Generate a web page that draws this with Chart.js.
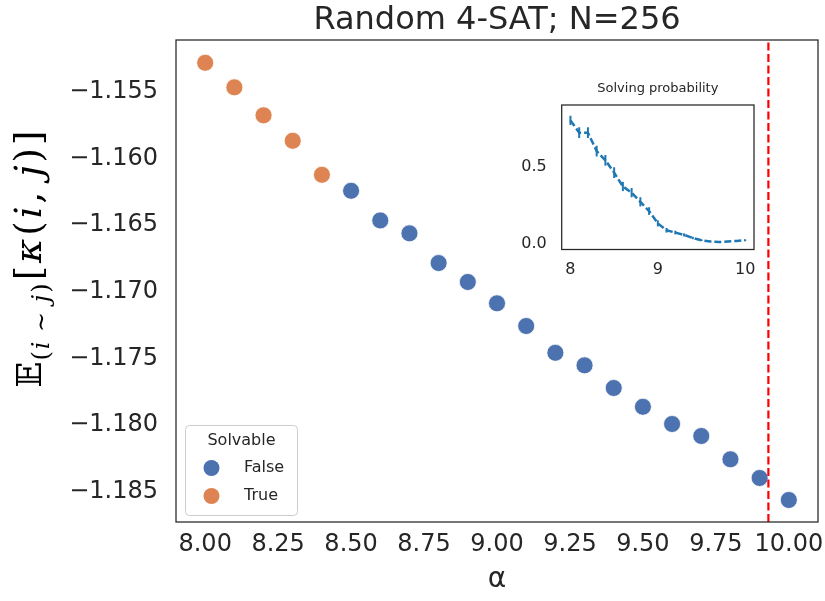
<!DOCTYPE html>
<html>
<head>
<meta charset="utf-8">
<script src="https://cdn.jsdelivr.net/npm/chart.js@4.4.0/dist/chart.umd.min.js"></script>
<style>
  body { margin: 0; background: #fff; }
  #wrap { position: relative; width: 825px; height: 601px; }
  #main { position: absolute; left: 0; top: 0; }
  #inset { position: absolute; left: 500px; top: 75px; }
</style>
</head>
<body>
<div id="wrap">
  <canvas id="main" width="825" height="601"></canvas>
  <canvas id="inset" width="265" height="210"></canvas>
</div>
<script>
// valores
const alphas = [8.0, 8.1, 8.2, 8.3, 8.4, 8.5, 8.6, 8.7, 8.8, 8.9, 9.0, 9.1, 9.2, 9.3, 9.4, 9.5, 9.6, 9.7, 9.8, 9.9, 10.0];
const curvatura = [-1.15283, -1.15467, -1.15677, -1.15868, -1.16123, -1.16243, -1.16465, -1.16562, -1.16785, -1.16927,
  -1.17087, -1.17257, -1.17458, -1.17552, -1.17722, -1.17863, -1.17992, -1.18082, -1.18257, -1.18397, -1.18562];
const solvable = [true, true, true, true, true, false, false, false, false, false, false,
  false, false, false, false, false, false, false, false, false, false];
const probResolver = [0.80, 0.72, 0.72, 0.60, 0.54, 0.46, 0.37, 0.33, 0.27, 0.21, 0.13,
  0.085, 0.07, 0.055, 0.035, 0.02, 0.012, 0.008, 0.012, 0.016, 0.02];
const probErro = [0.03, 0.035, 0.035, 0.035, 0.035, 0.035, 0.03, 0.03, 0.03, 0.025, 0.02,
  0.015, 0.012, 0.01, 0.008, 0.005, 0.004, 0.003, 0.004, 0.004, 0.005];
const limiar = 9.93;

const xLim = [7.9, 10.1];
const yLim = [-1.18727, -1.15112];
const insetYLim = [-0.04, 0.90];

const legendaTitulo = 'Solvable';
const legendaRotulos = ['False', 'True'];

const corTexto = '#262626';
const corAzul = '#4c72b0';
const corLaranja = '#dd8452';

// pontos separados por hue
function pontos(flag) {
  const out = [];
  alphas.forEach((a, i) => { if (solvable[i] === flag) out.push({ x: a, y: curvatura[i] }); });
  return out;
}

// tamanho fixo dos eixos, sem folga extra para os rótulos
function fixarAltura(h) {
  return s => { s.height = h; s.paddingLeft = 0; s.paddingRight = 0; };
}
function fixarLargura(w) {
  return s => { s.width = w; s.paddingTop = 0; s.paddingBottom = 0; };
}

// moldura completa dos eixos
const moldura = {
  id: 'moldura',
  afterDraw(chart) {
    const { ctx, chartArea: a } = chart;
    ctx.save();
    ctx.strokeStyle = corTexto;
    ctx.lineWidth = 1.25;
    ctx.strokeRect(a.left, a.top, a.right - a.left, a.bottom - a.top);
    ctx.restore();
  }
};

// legenda estilo seaborn
const legenda = {
  id: 'legenda',
  afterDraw(chart) {
    const ctx = chart.ctx;
    ctx.save();
    ctx.fillStyle = 'rgba(255,255,255,0.8)';
    ctx.strokeStyle = '#cccccc';
    ctx.lineWidth = 1;
    ctx.beginPath();
    ctx.roundRect(185.5, 425.5, 112, 90, 4);
    ctx.fill();
    ctx.stroke();
    ctx.fillStyle = corTexto;
    ctx.font = '16px "DejaVu Sans"';
    ctx.textAlign = 'center';
    ctx.textBaseline = 'middle';
    ctx.fillText(legendaTitulo, 241.5, 441);
    const cores = [corAzul, corLaranja];
    legendaRotulos.forEach((txt, i) => {
      const y = 468 + i * 28;
      ctx.beginPath();
      ctx.arc(211.5, y, 8, 0, Math.PI * 2);
      ctx.fillStyle = cores[i];
      ctx.fill();
      ctx.fillStyle = corTexto;
      ctx.textAlign = 'left';
      ctx.fillText(txt, 244, y);
    });
    ctx.restore();
  }
};

// rótulo do eixo y em notação matemática
const rotuloY = {
  id: 'rotuloY',
  afterDraw(chart) {
    const ctx = chart.ctx;
    // [texto, fonte, deslocamento da linha de base, espaço extra]
    const partes = [
      ['𝔼', '34px "DejaVu Serif"', 0, 1],
      ['(', '24px "DejaVu Serif"', 8, 2],
      ['i', 'italic 24px "DejaVu Serif"', 8, 2],
      [' ∼ ', '24px "DejaVu Serif"', 8, 2],
      ['j', 'italic 24px "DejaVu Serif"', 8, 2],
      [')', '24px "DejaVu Serif"', 8, 3],
      ['[', '37px "DejaVu Serif"', 0, 3],
      ['κ', 'italic 37px "DejaVu Serif"', 0, 3],
      ['(', '37px "DejaVu Serif"', 0, 3],
      ['i', 'italic 37px "DejaVu Serif"', 0, 3],
      [', ', '37px "DejaVu Serif"', 0, 3],
      ['j', 'italic 37px "DejaVu Serif"', 0, 3],
      [')', '37px "DejaVu Serif"', 0, 3],
      [']', '37px "DejaVu Serif"', 0, 0]
    ];
    ctx.save();
    ctx.fillStyle = '#000';
    ctx.textBaseline = 'alphabetic';
    let total = 0;
    partes.forEach(p => { ctx.font = p[1]; total += ctx.measureText(p[0]).width + p[3]; });
    ctx.translate(41, 259 + total / 2);
    ctx.rotate(-Math.PI / 2);
    let x = 0;
    partes.forEach(p => {
      ctx.font = p[1];
      ctx.fillText(p[0], x, p[2]);
      x += ctx.measureText(p[0]).width + p[3];
    });
    ctx.restore();
  }
};

new Chart(document.getElementById('main'), {
  type: 'scatter',
  data: {
    datasets: [
      {
        type: 'line',
        data: [{ x: limiar, y: yLim[0] }, { x: limiar, y: yLim[1] }],
        borderColor: '#ff0000',
        borderWidth: 2.2,
        borderDash: [8, 3.5],
        pointRadius: 0,
        fill: false,
        order: 0
      },
      {
        label: legendaRotulos[0],
        data: pontos(false),
        backgroundColor: corAzul,
        borderColor: '#ffffff',
        borderWidth: 0.75,
        pointRadius: 8.5,
        order: 1
      },
      {
        label: legendaRotulos[1],
        data: pontos(true),
        backgroundColor: corLaranja,
        borderColor: '#ffffff',
        borderWidth: 0.75,
        pointRadius: 8.5,
        order: 1
      }
    ]
  },
  options: {
    responsive: false,
    animation: false,
    devicePixelRatio: 1,
    layout: { autoPadding: false, padding: { left: 0, right: 7, top: 0, bottom: 0 } },
    plugins: {
      legend: { display: false },
      tooltip: { enabled: false },
      title: {
        display: true,
        text: 'Random 4-SAT; N=256',
        fullSize: false,
        color: corTexto,
        font: { family: '"DejaVu Sans"', size: 32, weight: 'normal' },
        padding: { top: 1.6, bottom: 0 }
      }
    },
    scales: {
      x: {
        type: 'linear',
        min: xLim[0],
        max: xLim[1],
        grid: { display: false, drawTicks: false },
        border: { display: false },
        ticks: {
          stepSize: 0.25,
          includeBounds: false,
          padding: 8.6,
          color: corTexto,
          font: { family: '"DejaVu Sans"', size: 24 },
          maxRotation: 0,
          autoSkip: false,
          callback: v => v.toFixed(2)
        },
        title: {
          display: true,
          text: 'α',
          color: corTexto,
          font: { family: '"DejaVu Sans"', size: 28 },
          padding: { top: 0, bottom: 4 }
        },
        afterFit: fixarAltura(79)
      },
      y: {
        min: yLim[0],
        max: yLim[1],
        grid: { display: false, drawTicks: false },
        border: { display: false },
        ticks: {
          stepSize: 0.005,
          includeBounds: false,
          padding: 18,
          color: corTexto,
          font: { family: '"DejaVu Sans"', size: 24 },
          autoSkip: false,
          callback: v => '\u2212' + Math.abs(v).toFixed(3)
        },
        afterFit: fixarLargura(176)
      }
    }
  },
  plugins: [moldura, legenda, rotuloY]
});

// barras de erro do gráfico inserido
const barrasErro = {
  id: 'barrasErro',
  afterDatasetsDraw(chart) {
    const { ctx, scales: { x, y } } = chart;
    ctx.save();
    ctx.strokeStyle = '#1f77b4';
    ctx.lineWidth = 2;
    alphas.forEach((a, i) => {
      const px = x.getPixelForValue(a);
      ctx.beginPath();
      ctx.moveTo(px, y.getPixelForValue(probResolver[i] - probErro[i]));
      ctx.lineTo(px, y.getPixelForValue(probResolver[i] + probErro[i]));
      ctx.stroke();
    });
    ctx.restore();
  }
};

new Chart(document.getElementById('inset'), {
  type: 'line',
  data: {
    datasets: [{
      data: alphas.map((a, i) => ({ x: a, y: probResolver[i] })),
      borderColor: '#1f77b4',
      borderWidth: 2.5,
      borderDash: [7, 3],
      pointRadius: 0,
      fill: false,
      tension: 0
    }]
  },
  options: {
    responsive: false,
    animation: false,
    devicePixelRatio: 1,
    layout: { autoPadding: false, padding: { left: 0, right: 11, top: 0, bottom: 0 } },
    plugins: {
      legend: { display: false },
      tooltip: { enabled: false },
      title: {
        display: true,
        text: 'Solving probability',
        fullSize: false,
        color: corTexto,
        font: { family: '"DejaVu Sans"', size: 13, weight: 'normal' },
        padding: { top: 6, bottom: 8.4 }
      }
    },
    scales: {
      x: {
        type: 'linear',
        min: xLim[0],
        max: xLim[1],
        grid: { display: false, drawTicks: false },
        border: { display: false },
        ticks: {
          stepSize: 1,
          includeBounds: false,
          padding: 11,
          color: corTexto,
          font: { family: '"DejaVu Sans"', size: 16 },
          maxRotation: 0,
          callback: v => String(v)
        },
        afterFit: fixarAltura(35.5)
      },
      y: {
        min: insetYLim[0],
        max: insetYLim[1],
        grid: { display: false, drawTicks: false },
        border: { display: false },
        ticks: {
          stepSize: 0.5,
          includeBounds: false,
          padding: 15,
          color: corTexto,
          font: { family: '"DejaVu Sans"', size: 16 },
          callback: v => v.toFixed(1)
        },
        afterFit: fixarLargura(61.7)
      }
    }
  },
  plugins: [moldura, barrasErro]
});
</script>
</body>
</html>
